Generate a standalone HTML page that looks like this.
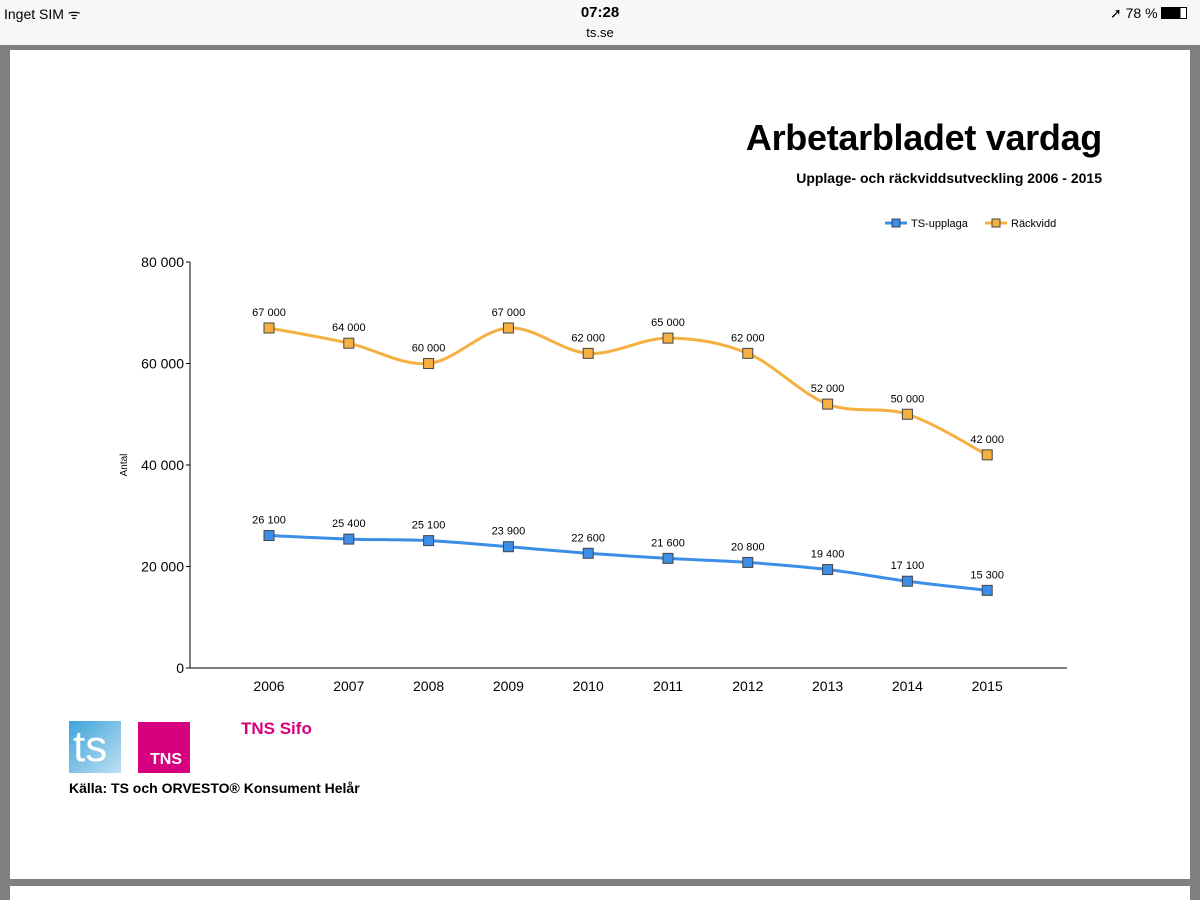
<!DOCTYPE html>
<html><head><meta charset="utf-8"><style>
body{margin:0;width:1200px;height:900px;position:relative;background:#fff;font-family:"Liberation Sans",sans-serif;overflow:hidden}
.abs{position:absolute}
</style></head><body>
<div class="abs" style="left:0;top:0;width:1200px;height:45px;background:#f7f7f7"></div>
<div class="abs" style="left:4px;top:5px;font-size:14px">Inget SIM ᯤ</div>
<div class="abs" style="left:0;width:1200px;text-align:center;top:4px;font-size:15px;font-weight:bold">07:28</div>
<div class="abs" style="left:0;width:1200px;text-align:center;top:25px;font-size:13px">ts.se</div>
<div class="abs" style="left:1110px;top:5px;font-size:14px">➚ 78 % <span style="display:inline-block;width:24px;height:10px;border:1px solid #000;vertical-align:-1px;background:linear-gradient(90deg,#000 78%,#fff 78%)"></span></div>
<div class="abs" style="left:0;top:45px;width:1200px;height:5px;background:#808080"></div>
<div class="abs" style="left:0;top:45px;width:10px;height:855px;background:#808080"></div>
<div class="abs" style="left:1190px;top:45px;width:10px;height:855px;background:#808080"></div>
<div class="abs" style="left:0;top:879px;width:1200px;height:7px;background:#808080"></div>
<div class="abs" style="left:10px;top:50px;width:1180px;height:829px;background:#fff"></div>
<div class="abs" style="left:10px;top:886px;width:1180px;height:14px;background:#fff"></div>
<div class="abs" style="right:98px;top:117px;font-size:36px;font-weight:bold;letter-spacing:-0.3px">Arbetarbladet vardag</div>
<div class="abs" style="right:98px;top:170px;font-size:14px;font-weight:bold">Upplage- och räckviddsutveckling 2006 - 2015</div>
<svg class="abs" style="left:0;top:0" width="1200" height="900" id="svg"></svg>
<div class="abs" style="left:69px;top:721px;width:52px;height:52px;background:linear-gradient(135deg,#3fa3d8,#bfe0f3)"><span style="position:absolute;left:4px;top:2px;color:#fff;font-size:44px;line-height:48px">ts</span></div>
<div class="abs" style="left:138px;top:722px;width:52px;height:51px;background:#d6007f"><span style="position:absolute;left:12px;bottom:4px;color:#fff;font-weight:bold;font-size:16px">TNS</span></div>
<div class="abs" style="left:241px;top:719px;color:#d6007f;font-weight:bold;font-size:17px">TNS Sifo</div>
<div class="abs" style="left:69px;top:780px;font-weight:bold;font-size:14px">Källa: TS och ORVESTO® Konsument Helår</div>
<script>
const years=["2006","2007","2008","2009","2010","2011","2012","2013","2014","2015"];
const upplaga=[26100,25400,25100,23900,22600,21600,20800,19400,17100,15300];
const rackvidd=[67000,64000,60000,67000,62000,65000,62000,52000,50000,42000];
const yTicks=[0,20000,40000,60000,80000];
const NS="http://www.w3.org/2000/svg",svg=document.getElementById('svg');
const X=i=>269+i*79.8, Y=v=>668-v*406/80000;
const fmt=v=>String(v).replace(/\B(?=(\d{3})+(?!\d))/g,' ');
function mk(t,a,txt){const e=document.createElementNS(NS,t);for(const k in a)e.setAttribute(k,a[k]);if(txt!=null)e.textContent=txt;svg.appendChild(e);return e;}
let e=mk('line',{x1:190,y1:668,x2:1067,y2:668,stroke:'#000'});


e=mk('line',{x1:190,y1:262,x2:190,y2:668,stroke:'#000'});


yTicks.forEach(v=>{e=mk('text',{x:184,y:Y(v)+5,'text-anchor':'end','font-size':14},fmt(v));


mk('line',{x1:186,x2:190,y1:Y(v),y2:Y(v),stroke:'#000'});});
years.forEach((y,i)=>{e=mk('text',{x:X(i),y:691,'text-anchor':'middle','font-size':14},y);

});
e=mk('text',{x:127,y:465,'text-anchor':'middle','font-size':10,transform:'rotate(-90 127 465)'},'Antal');


function path(vals){const p=vals.map((v,i)=>[X(i),Y(v)]);let d='M'+p[0];
for(let i=0;i<p.length-1;i++){const p0=p[i-1]||p[i],p1=p[i],p2=p[i+1],p3=p[i+2]||p2,t=6;
d+=' C'+(p1[0]+(p2[0]-p0[0])/t)+','+(p1[1]+(p2[1]-p0[1])/t)+' '+(p2[0]-(p3[0]-p1[0])/t)+','+(p2[1]-(p3[1]-p1[1])/t)+' '+p2;}return d;}
function series(vals,col,name){e=mk('path',{d:path(vals),fill:'none',stroke:col,'stroke-width':3});


vals.forEach((v,i)=>{e=mk('rect',{x:X(i)-5,y:Y(v)-5,width:10,height:10,fill:col,stroke:'#444','stroke-width':1});


e=mk('text',{x:X(i),y:Y(v)-12,'text-anchor':'middle','font-size':11},fmt(v));

});}
series(rackvidd,'#f5b041','rackvidd');
series(upplaga,'#3d8ee8','upplaga');
[[885,'#3d8ee8','TS-upplaga'],[985,'#f5b041','Räckvidd']].forEach(l=>{
e=mk('line',{x1:l[0],x2:l[0]+22,y1:223,y2:223,stroke:l[1],'stroke-width':3});


mk('rect',{x:l[0]+7,y:219,width:8,height:8,fill:l[1],stroke:'#444'});
mk('text',{x:l[0]+26,y:227,'font-size':11},l[2]);});
</script>
</body></html>
